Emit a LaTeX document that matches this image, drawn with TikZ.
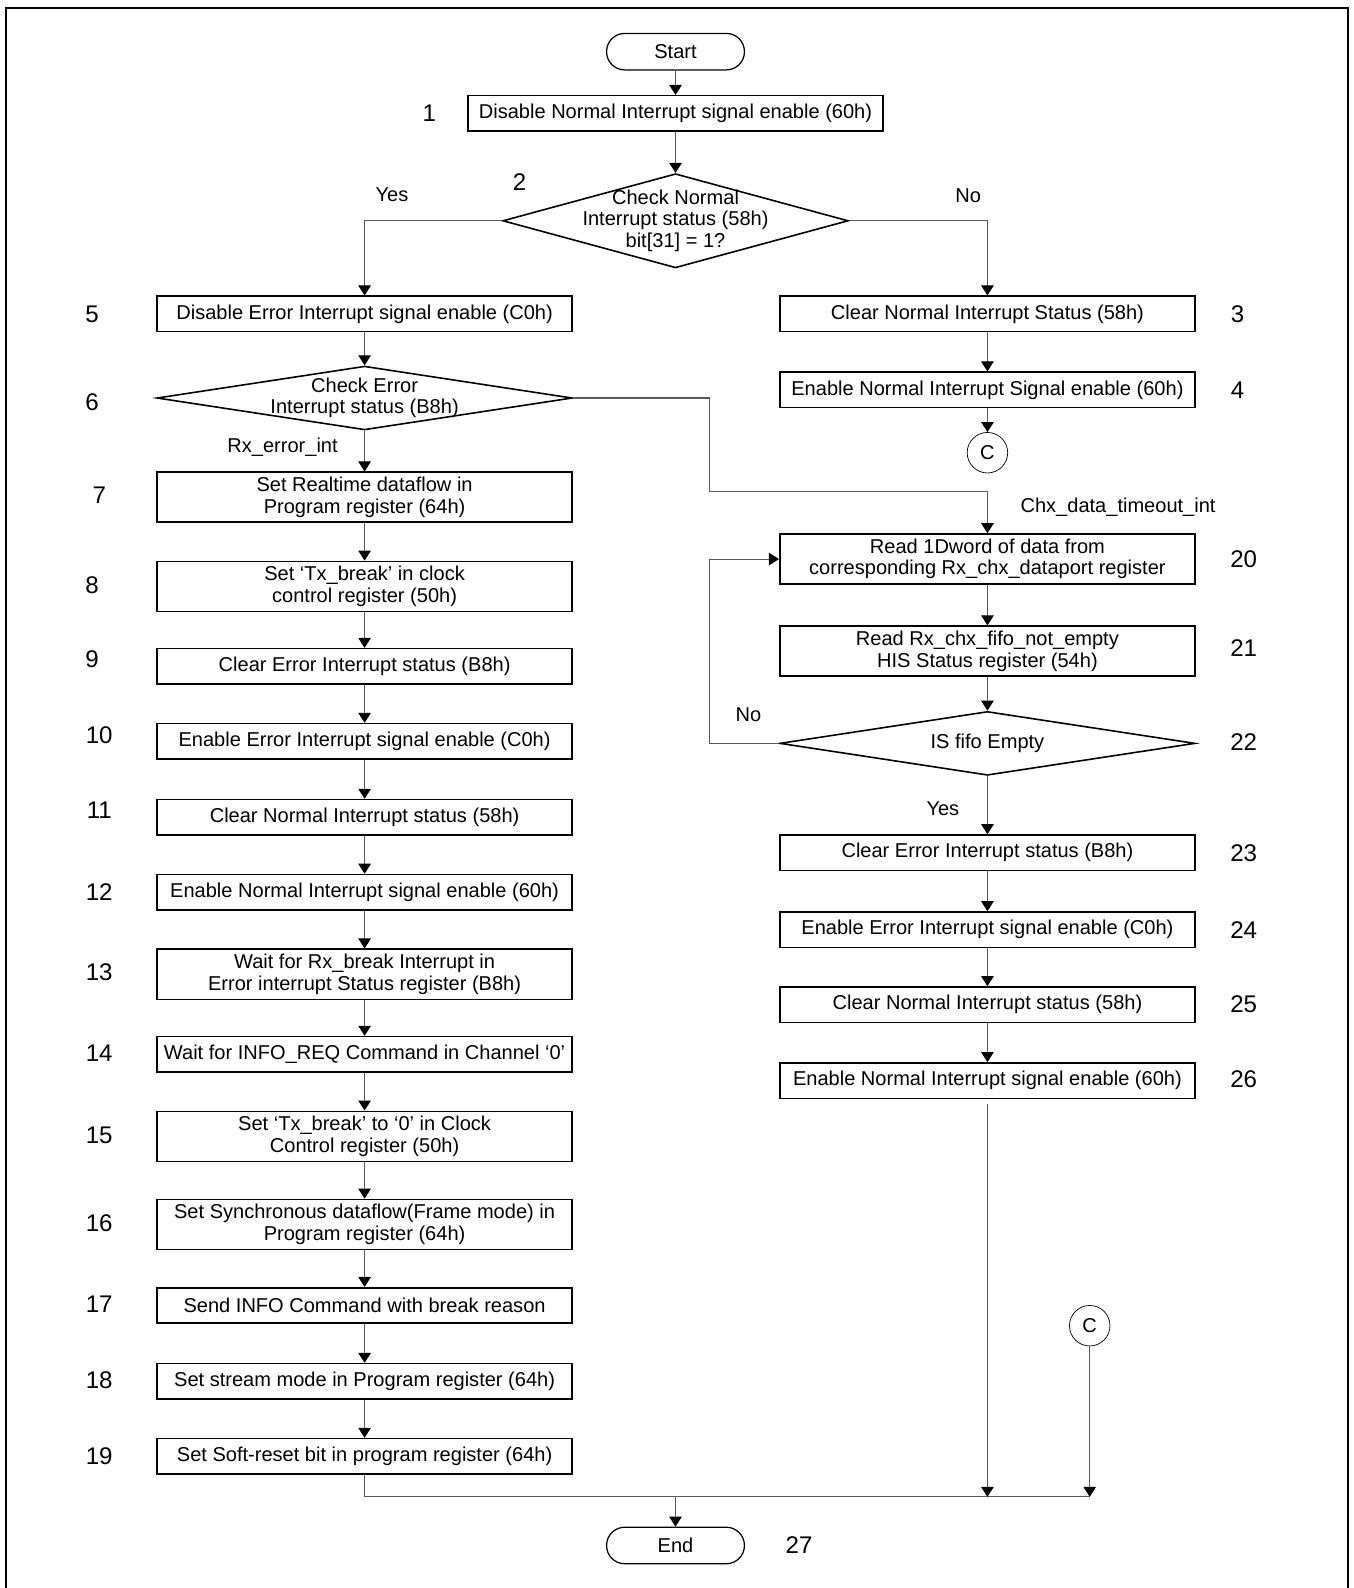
\documentclass[tikz,border=0pt]{standalone}
\usepackage{fontspec}
\setmainfont{Liberation Sans}
\usetikzlibrary{shapes.geometric,arrows.meta}
\newcommand{\tikzStepNumber}[3]{
  \node[stepnum] (n#1) at (#2,#3) {#1};
}

\begin{document}
\begin{tikzpicture}[x=0.020254cm, y=-0.020254cm, ->,
  >={Triangle[length=2mm,width=2.5mm,color=black]},
  font=\fontsize{11.4}{12.2}\selectfont,
  flow/.style={draw=black!65, line width=0.6pt},
  every edge/.style={flow},
  procbox/.style={draw=black, rectangle, line width=0.9pt, align=center, inner sep=0pt,
    minimum width=8.304cm, minimum height=0.709cm},
  tallbox/.style={procbox, minimum height=1.0cm},
  term/.style={draw=black, rectangle, rounded corners=3.6mm, line width=0.7pt,
    minimum width=2.755cm, minimum height=0.729cm},
  decision/.style={draw=black, diamond, line width=0.9pt, inner sep=0pt},
  conn/.style={draw=black, circle, minimum size=0.81cm, inner sep=0pt},
  stepnum/.style={font=\fontsize{13.7}{14}\selectfont},
  lbl/.style={align=center}]

  \useasboundingbox (0,0) rectangle (1336,1568);
  \draw[-, line width=1.2pt] (6,1568) -- (6,8) -- (1331,8) -- (1331,1568);

  \node[term] (start) at (667,51) {Start};
  \node[procbox] (s1) at (667,112) {Disable Normal Interrupt signal enable (60h)};
  \node[decision, minimum width=6.907cm, minimum height=1.884cm] (d2) at (667,218) {};
  \node[lbl] (d2t) at (d2) {Check Normal\\Interrupt status (58h)\\bit[31] = 1?};

  % right branch
  \node[procbox] (s3) at (975,310) {Clear Normal Interrupt Status (58h)};
  \node[procbox] (s4) at (975,385) {Enable Normal Interrupt Signal enable (60h)};
  \node[conn] (c1) at (975,447) {C};

  % left branch
  \node[procbox] (s5) at (360,310) {Disable Error Interrupt signal enable (C0h)};
  \node[decision, minimum width=8.304cm, minimum height=1.276cm] (d6) at (360,393) {};
  \node[lbl] (d6t) at (d6) {Check Error\\Interrupt status (B8h)};
  \node[tallbox] (s7) at (360,491) {Set Realtime dataflow in\\Program register (64h)};
  \node[tallbox] (s8) at (360,579) {Set ‘Tx\_break’ in clock\\control register (50h)};
  \node[procbox] (s9) at (360,658) {Clear Error Interrupt status (B8h)};
  \node[procbox] (s10) at (360,732) {Enable Error Interrupt signal enable (C0h)};
  \node[procbox] (s11) at (360,807) {Clear Normal Interrupt status (58h)};
  \node[procbox] (s12) at (360,881) {Enable Normal Interrupt signal enable (60h)};
  \node[tallbox] (s13) at (360,962) {Wait for Rx\_break Interrupt in\\Error interrupt Status register (B8h)};
  \node[procbox] (s14) at (360,1041) {Wait for INFO\_REQ Command in Channel ‘0’};
  \node[tallbox] (s15) at (360,1122) {Set ‘Tx\_break’ to ‘0’ in Clock\\Control register (50h)};
  \node[tallbox] (s16) at (360,1209) {Set Synchronous dataflow(Frame mode) in\\Program register (64h)};
  \node[procbox] (s17) at (360,1289) {Send INFO Command with break reason};
  \node[procbox] (s18) at (360,1364) {Set stream mode in Program register (64h)};
  \node[procbox] (s19) at (360,1438) {Set Soft-reset bit in program register (64h)};

  % timeout loop
  \node[tallbox] (s20) at (975,552) {Read 1Dword of data from\\corresponding Rx\_chx\_dataport register};
  \node[tallbox] (s21) at (975,643) {Read Rx\_chx\_fifo\_not\_empty\\HIS Status register (54h)};
  \node[decision, minimum width=8.304cm, minimum height=1.276cm] (d22) at (975,734) {};
  \node[lbl] (d22t) at (d22) {IS fifo Empty};
  \node[procbox] (s23) at (975,842) {Clear Error Interrupt status (B8h)};
  \node[procbox] (s24) at (975,918) {Enable Error Interrupt signal enable (C0h)};
  \node[procbox] (s25) at (975,992) {Clear Normal Interrupt status (58h)};
  \node[procbox] (s26) at (975,1067) {Enable Normal Interrupt signal enable (60h)};

  \node[conn] (c2) at (1076,1309) {C};
  \node[term] (end) at (667,1526) {End};

  \coordinate (j1) at (701,485);
  \coordinate (j2) at (701,734);
  \coordinate (j3) at (360,1478);
  \coordinate (m1) at (667,1478);
  \coordinate (m2) at (975,1478);
  \coordinate (m3) at (1076,1478);

  % edge labels
  \node (yes1) at (387,192) {Yes};
  \node (no1) at (956,193) {No};
  \node (rxerr) at (279,442) {Rx\_error\_int};
  \node (chxto) at (1104,501) {Chx\_data\_timeout\_int};
  \node (no2) at (739,706) {No};
  \node (yes2) at (931,799) {Yes};

  % step numbers
  \tikzStepNumber{1}{424}{112}
  \tikzStepNumber{2}{513}{180}
  \tikzStepNumber{3}{1222}{310}
  \tikzStepNumber{4}{1222}{385}
  \tikzStepNumber{5}{91}{310}
  \tikzStepNumber{6}{91}{397}
  \tikzStepNumber{7}{98}{489}
  \tikzStepNumber{8}{91}{578}
  \tikzStepNumber{9}{91}{651}
  \tikzStepNumber{10}{98}{726}
  \tikzStepNumber{11}{98}{800}
  \tikzStepNumber{12}{98}{881}
  \tikzStepNumber{13}{98}{960}
  \tikzStepNumber{14}{98}{1040}
  \tikzStepNumber{15}{98}{1121}
  \tikzStepNumber{16}{98}{1208}
  \tikzStepNumber{17}{98}{1288}
  \tikzStepNumber{18}{98}{1363}
  \tikzStepNumber{19}{98}{1438}
  \tikzStepNumber{20}{1228}{552}
  \tikzStepNumber{21}{1228}{640}
  \tikzStepNumber{22}{1228}{733}
  \tikzStepNumber{23}{1228}{842}
  \tikzStepNumber{24}{1228}{918}
  \tikzStepNumber{25}{1228}{992}
  \tikzStepNumber{26}{1228}{1066}
  \tikzStepNumber{27}{789}{1526}

  % connectors
  \path (start) edge (s1);
  \path (s1) edge (d2);
  \draw[flow] (d2.west) -| (s5);
  \draw[flow] (d2.east) -| (s3);
  \path (s3) edge (s4);
  \path (s4) edge (c1);
  \path (s5) edge (d6);
  \path (d6) edge (s7);
  \path (s7) edge (s8);
  \path (s8) edge (s9);
  \path (s9) edge (s10);
  \path (s10) edge (s11);
  \path (s11) edge (s12);
  \path (s12) edge (s13);
  \path (s13) edge (s14);
  \path (s14) edge (s15);
  \path (s15) edge (s16);
  \path (s16) edge (s17);
  \path (s17) edge (s18);
  \path (s18) edge (s19);
  \draw[flow] (d6.east) -| (j1) -| (s20);
  \path (s20) edge (s21);
  \path (s21) edge (d22);
  \path (d22) edge (s23);
  \draw[flow] (d22.west) -- (j2) |- (s20.west);
  \path (s23) edge (s24);
  \path (s24) edge (s25);
  \path (s25) edge (s26);
  \draw[flow, -] (s19.south) -- (j3) -- (m3);
  \draw[flow] ([yshift=-3pt]s26.south) -- (m2);
  \draw[flow] (c2) -- (m3);
  \draw[flow] (m1) -- (end);
\end{tikzpicture}
\end{document}
